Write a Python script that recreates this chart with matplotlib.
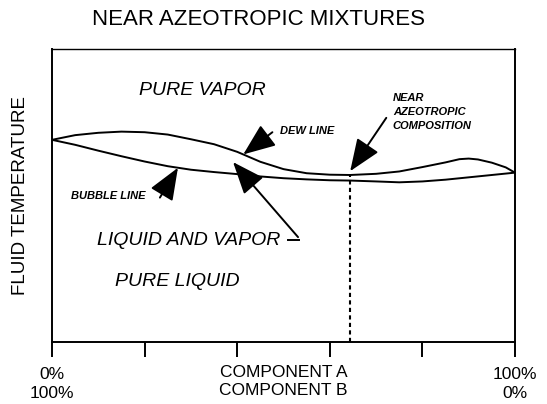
import numpy as np
import matplotlib.pyplot as plt

plt.rcParams['font.family'] = ['Liberation Sans', 'DejaVu Sans']

# composition (% of component A) and fluid temperature (arbitrary units)
dew_x = [0, 5, 10, 15, 20, 25, 30, 35, 40, 45, 50, 55, 60, 64.4, 70, 75, 80, 85, 88, 90, 92, 95, 98, 100]
dew_t = [69.0, 70.6, 71.4, 71.8, 71.6, 70.8, 69.2, 67.5, 64.9, 61.5, 59.0, 57.6, 57.1, 57.0,
         57.4, 58.2, 59.7, 61.3, 62.4, 62.6, 62.3, 61.2, 59.6, 57.8]
bubble_x = [0, 5, 10, 15, 20, 25, 30, 35, 40, 45, 50, 55, 60, 64.4, 70, 75, 80, 85, 90, 95, 100]
bubble_t = [69.0, 67.3, 65.3, 63.4, 61.6, 60.0, 58.8, 58.0, 57.3, 56.5, 55.9, 55.5, 55.2, 55.1,
            54.8, 54.5, 54.8, 55.4, 56.2, 57.0, 57.8]
azeo_x = 64.4

tick_pos = [0, 20, 40, 60, 80, 100]
tick_labels = ['0%\n100%', '', '', '', '', '100%\n0%']


def dew_at(x):
    return np.interp(x, dew_x, dew_t)


def bubble_at(x):
    return np.interp(x, bubble_x, bubble_t)


def arrow(ax, tip, offset):
    ax.annotate('', xy=tip, xytext=offset, textcoords='offset points',
                arrowprops=dict(arrowstyle='-|>,head_length=1,head_width=0.4',
                                mutation_scale=20, lw=1.4, color='black',
                                shrinkA=0, shrinkB=0))


fig = plt.figure(figsize=(5.47, 4.04), dpi=100)
ax = fig.add_axes([0.0951, 0.1535, 0.8464, 0.7252])

ax.plot(dew_x, dew_t, color='black', lw=1.4)
ax.plot(bubble_x, bubble_t, color='black', lw=1.4)
ax.plot([azeo_x, azeo_x], [0, dew_at(azeo_x)], color='black', lw=1.5,
        linestyle=(0, (2, 1.6)))

ax.set_xlim(0, 100)
ax.set_ylim(0, 100)
ax.set_yticks([])
ax.set_xticks(tick_pos, tick_labels)
ax.tick_params(axis='x', length=11, width=1.4, direction='out', pad=7, labelsize=12.5)
for lab in ax.get_xticklabels():
    lab.set_linespacing(1.3)
for s in ax.spines.values():
    s.set_linewidth(1.4)
ax.spines['top'].set_linewidth(1.0)

ax.text(50, -0.078, 'COMPONENT A\nCOMPONENT B', transform=ax.get_xaxis_transform(),
        ha='center', va='top', fontsize=12.5, linespacing=1.3)

# region labels
ax.text(18.8, 85.7, 'PURE VAPOR', fontsize=14, style='italic', va='center')
ax.text(9.7, 34.8, 'LIQUID AND VAPOR', fontsize=14, style='italic', va='center')
ax.text(13.6, 20.5, 'PURE LIQUID', fontsize=14, style='italic', va='center')

# line labels with arrows
ax.text(49.2, 72.0, 'DEW LINE', fontsize=8, style='italic', weight='bold', va='center')
arrow(ax, (41.3, dew_at(41.3)), (21, 16))

ax.text(20.1, 49.8, 'BUBBLE LINE', fontsize=8, style='italic', weight='bold',
        va='center', ha='right')
arrow(ax, (27.2, bubble_at(27.2)), (-13, -21.5))

ax.text(73.6, 78.5, 'NEAR\nAZEOTROPIC\nCOMPOSITION', fontsize=8, style='italic',
        weight='bold', va='center', ha='left', linespacing=1.55)
arrow(ax, (azeo_x, dew_at(azeo_x) + 1.3), (26, 38.4))

lv_x = 39.1
arrow(ax, (lv_x, (dew_at(lv_x) + bubble_at(lv_x)) / 2), (46.8, -54))
ax.plot([50.9, 53.3], [34.8, 34.8], color='black', lw=1.4)

fig.text(0.4717, 0.9505, 'NEAR AZEOTROPIC MIXTURES', ha='center', va='center', fontsize=16)
fig.text(0.0366, 0.517, 'FLUID TEMPERATURE', rotation=90, ha='center', va='center',
         fontsize=13.5)

fig.savefig('out.png', dpi=100)
